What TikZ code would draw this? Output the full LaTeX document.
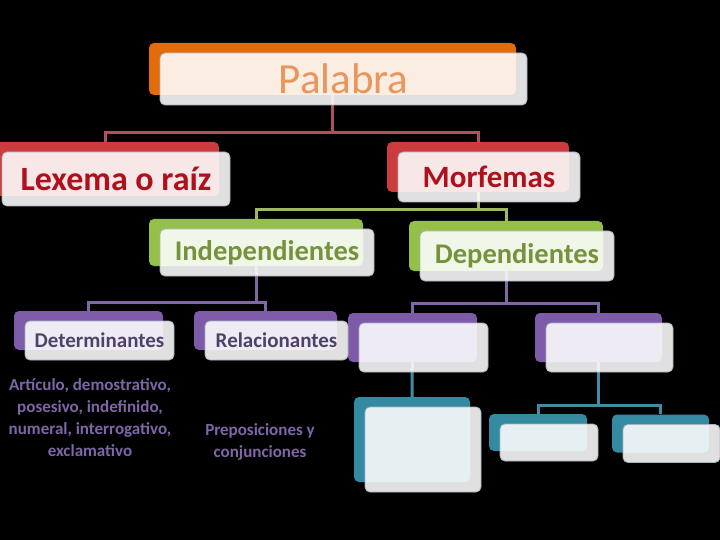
\documentclass[tikz,border=0pt]{standalone}
\usepackage{fontspec}
\setmainfont{Carlito}
\usetikzlibrary{positioning}
\pgfdeclarelayer{bg}
\pgfdeclarelayer{links}
\pgfsetlayers{bg,links,main}
% colours
\definecolor{palOrange}{HTML}{E36C0A}
\definecolor{palText}{HTML}{E9955B}
\definecolor{lexRed}{HTML}{CC3B3E}
\definecolor{lexText}{HTML}{B0101C}
\definecolor{lineRed}{HTML}{B0505A}
\definecolor{indGreen}{HTML}{94C04A}
\definecolor{indText}{HTML}{76923C}
\definecolor{lineGreen}{HTML}{9DB860}
\definecolor{detPurple}{HTML}{7D5BA8}
\definecolor{detText}{HTML}{4F4268}
\definecolor{notePurple}{HTML}{7E66A8}
\definecolor{linePurple}{HTML}{8068A4}
\definecolor{subTeal}{HTML}{348AA0}
\definecolor{lineTeal}{HTML}{3F8EA6}
\definecolor{frameGray}{HTML}{A9B2C2}
\begin{document}
\begin{tikzpicture}[x=1pt,y=-1pt,
  back/.style={rectangle, rounded corners=5pt, fill=#1, inner sep=0pt},
  front/.style={rectangle, rounded corners=5pt, fill=white, fill opacity=0.88,
    text opacity=1, draw=frameGray, line width=0.8pt, inner sep=0pt,
    xshift=11pt, yshift=-10pt},
  size/.style 2 args={minimum width=#1pt, minimum height=#2pt},
  link/.style={draw=#1, line width=3pt},
  big/.style={font=\fontsize{#1}{#1}\selectfont\bfseries},
  note/.style={text=notePurple, align=center, font=\fontsize{17}{22}\selectfont\bfseries}]
  \useasboundingbox (0,0) rectangle (720,540);
  \begin{pgfonlayer}{bg}
    \fill[black] (0,0) rectangle (720,540);
  \end{pgfonlayer}
  % bus heights
  \coordinate (bus1) at (0,133);
  \coordinate (bus2) at (0,210);
  \coordinate (bus3) at (0,302);
  \coordinate (bus4) at (0,303);
  \coordinate (bus5) at (0,405);
  % coloured backs
  \node[back=palOrange, size={367}{52}] (palB) at (332.5,69) {};
  \node[back=lexRed, size={228}{54}] (lexB) at (105,169) {};
  \node[back=lexRed, size={182}{50}] (morB) at (478,167) {};
  \node[back=indGreen, size={214}{47}] (indB) at (256,242.5) {};
  \node[back=indGreen, size={194}{50}] (depB) at (506,246) {};
  \node[back=detPurple, size={149}{39}] (detB) at (88.5,330.5) {};
  \node[back=detPurple, size={143}{39}] (relB) at (265.5,330.5) {};
  \node[back=detPurple, size={129}{49}] (dep1B) at (412.5,337.5) {};
  \node[back=detPurple, size={127}{49}] (dep2B) at (598.5,337.5) {};
  \node[back=subTeal, size={116}{85}] (dep1aB) at (412,439.5) {};
  \node[back=subTeal, size={98}{37}] (dep2aB) at (538,432.5) {};
  \node[back=subTeal, size={97}{38}] (dep2bB) at (660.5,433.5) {};
  % connectors
  \begin{pgfonlayer}{links}
    \draw[link=lineRed] (palB.center) -- (palB |- bus1);
    \draw[link=lineRed] (lexB.north) |- (bus1 -| morB) -- (morB.north);
    \draw[link=lineGreen] (morB.center) -- (morB |- bus2);
    \draw[link=lineGreen] (indB.north) |- (bus2 -| depB) -- (depB.north);
    \draw[link=linePurple] (indB.center) -- (indB |- bus3);
    \draw[link=linePurple] (detB.north) |- (bus3 -| relB) -- (relB.north);
    \draw[link=linePurple] (depB.center) -- (depB |- bus4);
    \draw[link=linePurple] (dep1B.north) |- (bus4 -| dep2B) -- (dep2B.north);
    \draw[link=lineTeal] (dep1B.center) -- (dep1aB.north);
    \draw[link=lineTeal] (dep2B.center) -- (dep2B |- bus5);
    \draw[link=lineTeal] (dep2aB.north) |- (bus5 -| dep2bB) -- (dep2bB.north);
  \end{pgfonlayer}
  % light fronts
  \node[front, size={367}{52}, text=palText, font=\fontsize{43}{43}\selectfont] (pal) at (palB) {Palabra};
  \node[front, size={228}{54}, text=lexText, big=34] (lex) at (lexB) {Lexema o raíz};
  \node[front, size={182}{50}, text=lexText, big=31] (mor) at (morB) {Morfemas};
  \node[front, size={214}{47}, text=indText, big=28.5] (ind) at (indB) {Independientes};
  \node[front, size={194}{50}, text=indText, big=28.5] (dep) at (depB) {Dependientes};
  \node[front, size={149}{39}, text=detText, big=21] (det) at (detB) {Determinantes};
  \node[front, size={143}{39}, text=detText, big=21] (rel) at (relB) {Relacionantes};
  \node[front, size={129}{49}] (dep1) at (dep1B) {};
  \node[front, size={127}{49}] (dep2) at (dep2B) {};
  \node[front, size={116}{85}] (dep1a) at (dep1aB) {};
  \node[front, size={98}{37}] (dep2a) at (dep2aB) {};
  \node[front, size={97}{38}] (dep2b) at (dep2bB) {};
  % notes
  \node[note] (detNote) at (90,418) {Artículo, demostrativo,\\posesivo, indefinido,\\numeral, interrogativo,\\exclamativo};
  \node[note] (relNote) at (260,442) {Preposiciones y\\conjunciones};
\end{tikzpicture}
\end{document}
